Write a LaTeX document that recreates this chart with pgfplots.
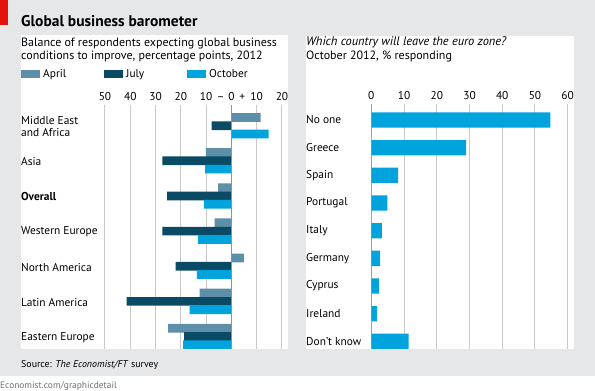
\documentclass[border=0pt]{standalone}
\usepackage{pgfplots}
\pgfplotsset{compat=1.18}
\usepackage{fontspec}
\setmainfont{PT Sans}
\definecolor{bggrey}{HTML}{E6E7E9}
\definecolor{econred}{HTML}{E3120B}
\definecolor{april}{HTML}{5E8FA9}
\definecolor{july}{HTML}{0B4A64}
\definecolor{october}{HTML}{00A3DC}
\definecolor{gridgrey}{HTML}{C9C9C9}
\definecolor{zerored}{HTML}{EC6A72}
\definecolor{zerogrey}{HTML}{8C8C8C}
\definecolor{footgrey}{HTML}{707070}
\newcommand{\tf}{\fontsize{11.4}{12.4}\selectfont}
\begin{document}
\begin{tikzpicture}[x=1pt,y=1pt]
\useasboundingbox (0,0) rectangle (595,391);
\fill[white] (0,0) rectangle (595,391);
\fill[bggrey] (0,15) rectangle (595,391);
\fill[econred] (0,366) rectangle (8,391);
\fill[white] (21,42) rectangle (288,356);
\fill[white] (306,42) rectangle (574,355);
\node[anchor=base west, inner sep=0pt, font=\bfseries\fontsize{15.5}{18}\selectfont] at (21,364.3) {Global business barometer};
\node[anchor=base west, inner sep=0pt, align=left, font=\fontsize{12}{12.7}\selectfont] at (21,331.7) {Balance of respondents expecting global business\\conditions to improve, percentage points, 2012};
\node[anchor=base west, inner sep=0pt, align=left, font=\fontsize{12}{13.3}\selectfont] at (306,331.7) {\textit{\fontsize{12.4}{13.3}\selectfont Which country will leave the euro zone?}\\October 2012, \% responding};
\node[anchor=base west, inner sep=0pt, font=\fontsize{9.9}{12}\selectfont] at (21,23.3) {Source: \textit{The Economist/FT} survey};
\node[anchor=base west, inner sep=0pt, text=footgrey, font=\fontsize{9.4}{12}\selectfont] at (0,2.7) {Economist.com/graphicdetail};

\begin{axis}[
  at={(105pt,42pt)}, anchor=south west, scale only axis,
  width=177pt, height=244pt,
  xmin=-50, xmax=20, ymin=-0.355, ymax=6.589,
  axis line style={draw=none},
  major tick length=0pt,
  xtick={-50,-40,-30,-20,-10,0,10,20},
  xticklabels={50,40,30,20,10,0,10,20},
  xticklabel pos=upper,
  xticklabel style={anchor=base, inner sep=0pt, yshift=4.3pt, font=\tf},
  extra x ticks={-4.3,4.3},
  extra x tick labels={–,+},
  extra x tick style={grid=none},
  xmajorgrids, grid style={gridgrey, line width=1pt},
  ytick={0,1,2,3,4,5,6},
  yticklabels={Eastern Europe,Latin America,North America,Western Europe,\textbf{Overall},Asia,{Middle East\\and Africa}},
  yticklabel style={anchor=west, align=left, inner sep=0pt, xshift=-84pt, yshift=-1pt, font=\tf},
  legend columns=3,
  legend style={at={(-0.4746,1.127)}, anchor=west, draw=none, fill=none, inner sep=0pt,
    nodes={inner sep=0pt, text width=61pt, align=left, font=\tf},
    /tikz/every odd column/.append style={column sep=3.5pt}},
  legend image code/.code={\fill[#1] (0pt,-4pt) rectangle (18.5pt,4pt);},
]
\addplot[xbar, bar width=8.7pt, bar shift=0pt, fill=april, draw=none] coordinates {
 (-25,0.236) (-12.6,1.236) (4.9,2.236) (-6.6,3.236) (-5.3,4.236) (-10.1,5.236) (11.5,6.236)};
\addplot[xbar, bar width=8.7pt, bar shift=0pt, fill=july, draw=none] coordinates {
 (-18.7,0) (-41.4,1) (-22.1,2) (-27.3,3) (-25.4,4) (-27.3,5) (-7.8,6)};
\addplot[xbar, bar width=8.7pt, bar shift=0pt, fill=october, draw=none] coordinates {
 (-19.1,-0.236) (-16.5,0.764) (-13.7,1.764) (-13.2,2.764) (-10.9,3.764) (-10.4,4.764) (14.7,5.764)};
\legend{April,July,October}
\draw[zerored, line width=1pt] (axis cs:0,-0.355) -- (axis cs:0,6.589);
\end{axis}

\begin{axis}[
  at={(371.3pt,42pt)}, anchor=south west, scale only axis,
  width=196.4pt, height=245pt,
  xmin=0, xmax=60, ymin=-0.276, ymax=8.578,
  axis line style={draw=none},
  major tick length=0pt,
  xtick={0,10,20,30,40,50,60},
  xticklabels={0,10,20,30,40,50,60},
  xticklabel pos=upper,
  xticklabel style={anchor=base, inner sep=0pt, yshift=4.3pt, font=\tf},
  xmajorgrids, grid style={gridgrey, line width=1pt},
  ytick={0,1,2,3,4,5,6,7,8},
  yticklabels={Don’t know,Ireland,Cyprus,Germany,Italy,Portugal,Spain,Greece,No one},
  yticklabel style={anchor=west, inner sep=0pt, xshift=-65.3pt, font=\tf},
]
\addplot[xbar, bar width=15.3pt, bar shift=0pt, fill=october, draw=none] coordinates {
 (11.4,0) (1.7,1) (2.3,2) (2.7,3) (3.2,4) (4.9,5) (8.2,6) (29.0,7) (54.7,8)};
\draw[zerogrey, line width=1pt] (axis cs:0,-0.276) -- (axis cs:0,8.578);
\end{axis}
\end{tikzpicture}
\end{document}
